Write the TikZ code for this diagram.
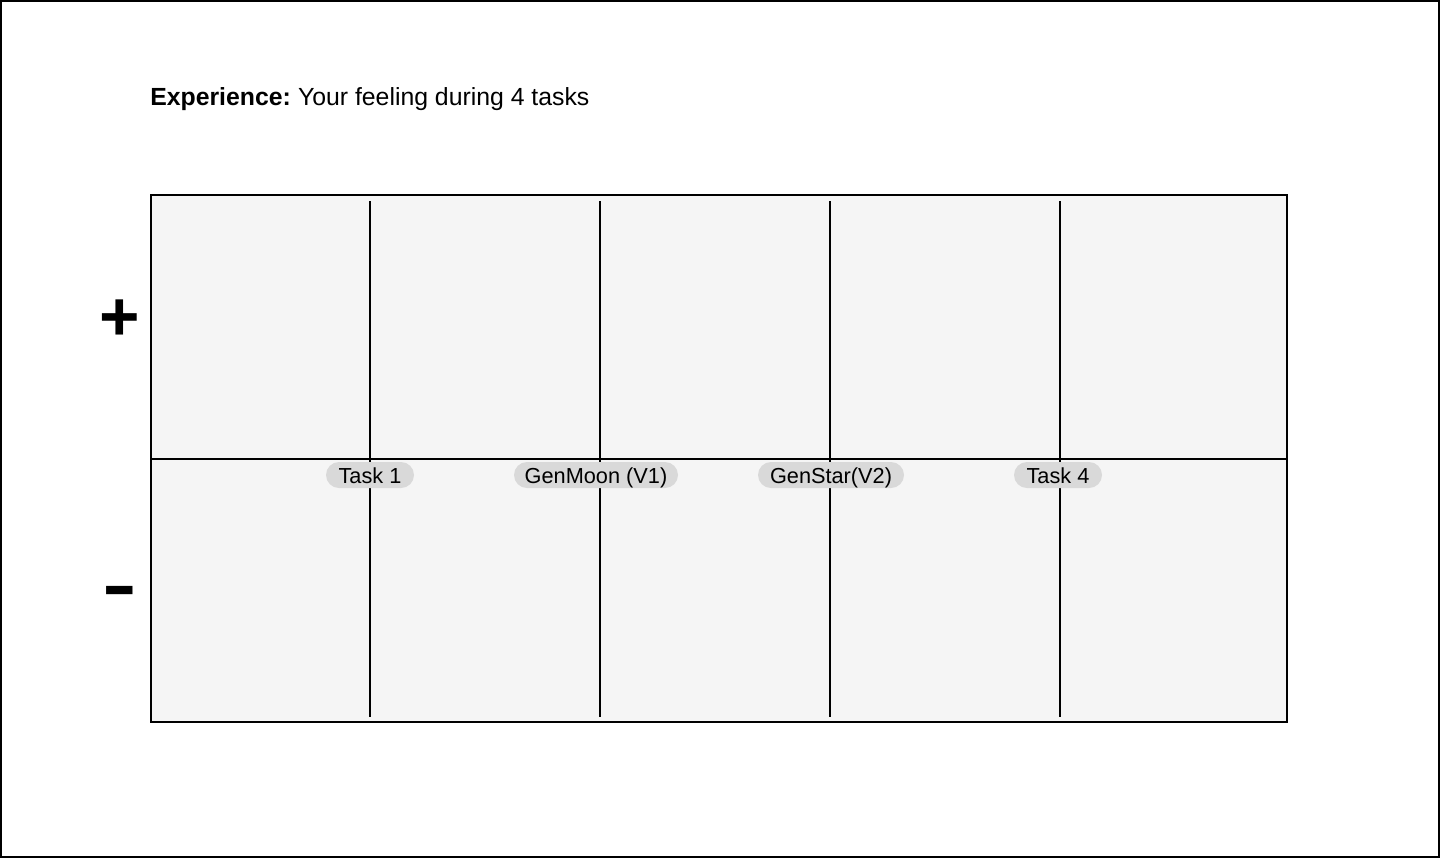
\documentclass[tikz,border=0pt]{standalone}
\usepackage{fontspec}
\setmainfont{Liberation Sans}
\begin{document}
\begin{tikzpicture}[x=0.75pt,y=-0.75pt,
  pill/.style={fill=pillgray,rounded corners=13*0.75pt,minimum height=26*0.75pt,inner xsep=0pt,inner ysep=0pt,text height=13.5pt,text depth=1.5pt,font=\fontsize{16.3}{19}\selectfont},
  sign/.style={inner sep=0pt,font=\fontsize{52}{54}\selectfont\bfseries},
  divider/.style={line width=1.5pt,draw=black}]
\definecolor{pillgray}{HTML}{D9D9D9}
\definecolor{cellgray}{HTML}{F5F5F5}
\useasboundingbox (0,0) rectangle (1440,858);
\draw[line width=1.5pt] (1,1) rectangle (1439,857);
\node[anchor=base west,inner sep=0pt,font=\fontsize{18.6}{22}\selectfont] (title) at (150,105) {\textbf{Experience:}\hspace{-1.5pt} Your feeling during 4 tasks};
\draw[fill=cellgray,line width=1.5pt] (151,195) rectangle (1287,722);
\coordinate (ml) at (151,459);
\coordinate (mr) at (1287,459);
\draw[line width=1.2pt] (ml) -- (mr);
\foreach \x/\n in {370/a,600/b,830/c,1060/d}{
  \coordinate (t\n) at (\x,201);
  \coordinate (b\n) at (\x,717);
  \draw[divider] (t\n) -- (b\n);
}
\node[pill,minimum width=88*0.75pt] (task1) at (370,475) {Task 1};
\node[pill,minimum width=164*0.75pt] (genmoon) at (596,475) {GenMoon (V1)};
\node[pill,minimum width=146*0.75pt] (genstar) at (831,475) {GenStar(V2)};
\node[pill,minimum width=88*0.75pt] (task4) at (1058,475) {Task 4};
\node[sign] (plus) at (120,320) {+};
\node[sign,anchor=base,xscale=1.5,transform shape] (minus) at (120,608) {-};
\end{tikzpicture}
\end{document}
